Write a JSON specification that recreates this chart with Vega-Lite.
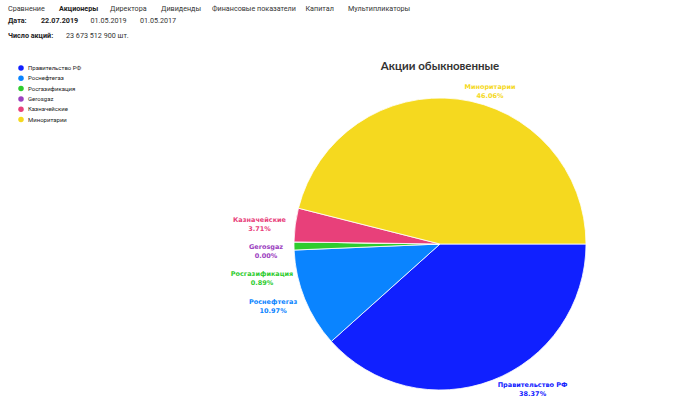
{
  "$schema": "https://vega.github.io/schema/vega-lite/v6.json",
  "width": 500,
  "height": 308,
  "autosize": {"type": "none"},
  "padding": {"left": 190, "top": 90, "right": 0, "bottom": 0},
  "background": "white",
  "config": {"view": {"stroke": null}},
  "title": {
    "text": "Акции обыкновенные",
    "anchor": "middle",
    "frame": "group",
    "font": "Lato",
    "fontSize": 11.5,
    "fontWeight": "bold",
    "color": "#333333",
    "offset": -67
  },
  "datasets": {
    "shares": [
      {"order": 1, "name": "Правительство РФ", "value": 38.37, "pct": "38.37%"},
      {"order": 2, "name": "Роснефтегаз", "value": 10.97, "pct": "10.97%"},
      {"order": 3, "name": "Росгазификация", "value": 0.89, "pct": "0.89%"},
      {"order": 4, "name": "Gerosgaz", "value": 0.0, "pct": "0.00%"},
      {"order": 5, "name": "Казначейские", "value": 3.71, "pct": "3.71%"},
      {"order": 6, "name": "Миноритарии", "value": 46.06, "pct": "46.06%"}
    ],
    "nav": [
      {"k": "n1", "line": "l1", "t": "Сравнение", "bold": 0},
      {"k": "n2", "line": "l1", "t": "Акционеры", "bold": 1},
      {"k": "n3", "line": "l1", "t": "Директора", "bold": 0},
      {"k": "n4", "line": "l1", "t": "Дивиденды", "bold": 0},
      {"k": "n5", "line": "l1", "t": "Финансовые показатели", "bold": 0},
      {"k": "n6", "line": "l1", "t": "Капитал", "bold": 0},
      {"k": "n7", "line": "l1", "t": "Мультипликаторы", "bold": 0}
    ],
    "dates": [
      {"k": "d1", "line": "l2", "t": "Дата:", "bold": 1},
      {"k": "d2", "line": "l2", "t": "22.07.2019", "bold": 1},
      {"k": "d3", "line": "l2", "t": "01.05.2019", "bold": 0},
      {"k": "d4", "line": "l2", "t": "01.05.2017", "bold": 0}
    ],
    "count": [
      {"k": "c1", "line": "l3", "t": "Число акций:", "bold": 1},
      {"k": "c2", "line": "l3", "t": "23 673 512 900 шт.", "bold": 0}
    ]
  },
  "layer": [
    {
      "data": {"name": "shares"},
      "mark": {"type": "arc", "outerRadius": 146, "stroke": "white", "strokeWidth": 0.8},
      "encoding": {
        "theta": {"field": "value", "type": "quantitative", "stack": true, "scale": {"range": [1.5708, 7.854]}},
        "order": {"field": "order", "type": "quantitative", "sort": "ascending"},
        "color": {
          "field": "name",
          "type": "nominal",
          "sort": {"field": "order"},
          "scale": {
            "domain": ["Правительство РФ", "Роснефтегаз", "Росгазификация", "Gerosgaz", "Казначейские", "Миноритарии"],
            "range": ["#1020ff", "#0a84ff", "#2ecc2e", "#9b40c0", "#e8407a", "#f5d91f"]
          },
          "legend": {
            "title": null,
            "orient": "none",
            "legendX": -172,
            "legendY": -25,
            "padding": 0,
            "symbolType": "circle",
            "symbolSize": 30,
            "symbolStrokeWidth": 0,
            "labelFontSize": 6,
            "labelFont": "Roboto",
            "labelColor": "#222222",
            "labelOffset": 4,
            "rowPadding": 4.3,
            "encode": {
              "labels": {
                "update": {
                  "fontWeight": {"signal": "datum.label === 'Правительство РФ' || datum.label === 'Миноритарии' ? 'bold' : 'normal'"}
                }
              }
            }
          }
        }
      }
    },
    {
      "data": {"name": "shares"},
      "transform": [{"calculate": "datum.name + '|' + datum.pct", "as": "label"}],
      "mark": {"type": "text", "radius": 178, "dx": 29, "dy": -25, "font": "DejaVu Sans", "fontSize": 6.5, "fontWeight": "bold", "lineBreak": "|", "lineHeight": 9, "align": "center", "baseline": "middle"},
      "encoding": {
        "theta": {"field": "value", "type": "quantitative", "stack": true},
        "order": {"field": "order", "type": "quantitative", "sort": "ascending"},
        "text": {"condition": {"test": "datum.name === 'Правительство РФ'", "field": "label"}, "value": ""},
        "color": {"field": "name", "type": "nominal", "legend": null}
      }
    },
    {
      "data": {"name": "shares"},
      "transform": [{"calculate": "datum.name + '|' + datum.pct", "as": "label"}],
      "mark": {"type": "text", "radius": 178, "dx": -2, "dy": -9, "font": "DejaVu Sans", "fontSize": 6.5, "fontWeight": "bold", "lineBreak": "|", "lineHeight": 9, "align": "center", "baseline": "middle"},
      "encoding": {
        "theta": {"field": "value", "type": "quantitative", "stack": true},
        "order": {"field": "order", "type": "quantitative", "sort": "ascending"},
        "text": {"condition": {"test": "datum.name === 'Роснефтегаз'", "field": "label"}, "value": ""},
        "color": {"field": "name", "type": "nominal", "legend": null}
      }
    },
    {
      "data": {"name": "shares"},
      "transform": [{"calculate": "datum.name + '|' + datum.pct", "as": "label"}],
      "mark": {"type": "text", "radius": 178, "dx": 0, "dy": 28, "font": "DejaVu Sans", "fontSize": 6.5, "fontWeight": "bold", "lineBreak": "|", "lineHeight": 9, "align": "center", "baseline": "middle"},
      "encoding": {
        "theta": {"field": "value", "type": "quantitative", "stack": true},
        "order": {"field": "order", "type": "quantitative", "sort": "ascending"},
        "text": {"condition": {"test": "datum.name === 'Росгазификация'", "field": "label"}, "value": ""},
        "color": {"field": "name", "type": "nominal", "legend": null}
      }
    },
    {
      "data": {"name": "shares"},
      "transform": [{"calculate": "datum.name + '|' + datum.pct", "as": "label"}],
      "mark": {"type": "text", "radius": 178, "dx": 4, "dy": 6, "font": "DejaVu Sans", "fontSize": 6.5, "fontWeight": "bold", "lineBreak": "|", "lineHeight": 9, "align": "center", "baseline": "middle"},
      "encoding": {
        "theta": {"field": "value", "type": "quantitative", "stack": true},
        "order": {"field": "order", "type": "quantitative", "sort": "ascending"},
        "text": {"condition": {"test": "datum.name === 'Gerosgaz'", "field": "label"}, "value": ""},
        "color": {"field": "name", "type": "nominal", "legend": null}
      }
    },
    {
      "data": {"name": "shares"},
      "transform": [{"calculate": "datum.name + '|' + datum.pct", "as": "label"}],
      "mark": {"type": "text", "radius": 178, "dx": -4, "dy": -1, "font": "DejaVu Sans", "fontSize": 6.5, "fontWeight": "bold", "lineBreak": "|", "lineHeight": 9, "align": "center", "baseline": "middle"},
      "encoding": {
        "theta": {"field": "value", "type": "quantitative", "stack": true},
        "order": {"field": "order", "type": "quantitative", "sort": "ascending"},
        "text": {"condition": {"test": "datum.name === 'Казначейские'", "field": "label"}, "value": ""},
        "color": {"field": "name", "type": "nominal", "legend": null}
      }
    },
    {
      "data": {"name": "shares"},
      "transform": [{"calculate": "datum.name + '|' + datum.pct", "as": "label"}],
      "mark": {"type": "text", "radius": 178, "dx": 28, "dy": 20, "font": "DejaVu Sans", "fontSize": 6.5, "fontWeight": "bold", "lineBreak": "|", "lineHeight": 9, "align": "center", "baseline": "middle"},
      "encoding": {
        "theta": {"field": "value", "type": "quantitative", "stack": true},
        "order": {"field": "order", "type": "quantitative", "sort": "ascending"},
        "text": {"condition": {"test": "datum.name === 'Миноритарии'", "field": "label"}, "value": ""},
        "color": {"field": "name", "type": "nominal", "legend": null}
      }
    },
    {
      "data": {"name": "nav"},
      "transform": [{"filter": "datum.bold === 0"}],
      "mark": {"type": "text", "font": "Roboto", "fontSize": 7.2, "align": "left", "baseline": "middle", "color": "#333333"},
      "encoding": {
        "x": {"field": "k", "type": "nominal", "axis": null, "scale": {
            "type": "point", "padding": 0,
            "domain": ["n1", "a1", "a2", "a3", "a4", "a5", "n2", "b1", "b2", "b3", "b4", "b5", "n3", "c1", "c2", "c3", "c4", "c5", "n4", "e1", "e2", "e3", "e4", "e5", "n5", "f1", "f2", "f3", "f4", "f5", "f6", "f7", "f8", "f9", "f10", "n6", "h1", "h2", "h3", "h4", "n7"],
            "range": [-182, 158]
          }},
        "y": {"field": "line", "type": "nominal", "axis": null, "scale": {
            "type": "point", "padding": 0,
            "domain": ["l1", "q1", "q2", "q3", "l2", "q4", "q5", "q6", "q7", "l3"],
            "range": [-81, -54]
          }},
        "text": {"field": "t", "type": "nominal"}
      }
    },
    {
      "data": {"name": "nav"},
      "transform": [{"filter": "datum.bold === 1"}],
      "mark": {"type": "text", "font": "Roboto", "fontSize": 7.2, "fontWeight": "bold", "align": "left", "baseline": "middle", "color": "#222222"},
      "encoding": {
        "x": {"field": "k", "type": "nominal", "axis": null, "scale": {
            "type": "point", "padding": 0,
            "domain": ["n1", "a1", "a2", "a3", "a4", "a5", "n2", "b1", "b2", "b3", "b4", "b5", "n3", "c1", "c2", "c3", "c4", "c5", "n4", "e1", "e2", "e3", "e4", "e5", "n5", "f1", "f2", "f3", "f4", "f5", "f6", "f7", "f8", "f9", "f10", "n6", "h1", "h2", "h3", "h4", "n7"],
            "range": [-182, 158]
          }},
        "y": {"field": "line", "type": "nominal", "axis": null},
        "text": {"field": "t", "type": "nominal"}
      }
    },
    {
      "data": {"name": "dates"},
      "transform": [{"filter": "datum.bold === 0"}],
      "mark": {"type": "text", "font": "Roboto", "fontSize": 7.2, "align": "left", "baseline": "middle", "color": "#333333"},
      "encoding": {
        "x": {"field": "k", "type": "nominal", "axis": null, "scale": {
            "type": "point", "padding": 0,
            "domain": ["d1", "g1", "d2", "g2", "g3", "d3", "g4", "g5", "d4"],
            "range": [-182, -50]
          }},
        "y": {"field": "line", "type": "nominal", "axis": null},
        "text": {"field": "t", "type": "nominal"}
      }
    },
    {
      "data": {"name": "dates"},
      "transform": [{"filter": "datum.bold === 1"}],
      "mark": {"type": "text", "font": "Roboto", "fontSize": 7.2, "fontWeight": "bold", "align": "left", "baseline": "middle", "color": "#222222"},
      "encoding": {
        "x": {"field": "k", "type": "nominal", "axis": null, "scale": {
            "type": "point", "padding": 0,
            "domain": ["d1", "g1", "d2", "g2", "g3", "d3", "g4", "g5", "d4"],
            "range": [-182, -50]
          }},
        "y": {"field": "line", "type": "nominal", "axis": null},
        "text": {"field": "t", "type": "nominal"}
      }
    },
    {
      "data": {"name": "count"},
      "transform": [{"filter": "datum.bold === 0"}],
      "mark": {"type": "text", "font": "Roboto", "fontSize": 7.2, "align": "left", "baseline": "middle", "color": "#333333"},
      "encoding": {
        "x": {"field": "k", "type": "nominal", "axis": null, "scale": {
            "type": "point", "padding": 0,
            "domain": ["c1", "c2"],
            "range": [-182, -124]
          }},
        "y": {"field": "line", "type": "nominal", "axis": null},
        "text": {"field": "t", "type": "nominal"}
      }
    },
    {
      "data": {"name": "count"},
      "transform": [{"filter": "datum.bold === 1"}],
      "mark": {"type": "text", "font": "Roboto", "fontSize": 7.2, "fontWeight": "bold", "align": "left", "baseline": "middle", "color": "#222222"},
      "encoding": {
        "x": {"field": "k", "type": "nominal", "axis": null, "scale": {
            "type": "point", "padding": 0,
            "domain": ["c1", "c2"],
            "range": [-182, -124]
          }},
        "y": {"field": "line", "type": "nominal", "axis": null},
        "text": {"field": "t", "type": "nominal"}
      }
    }
  ],
  "resolve": {"scale": {"x": "independent", "y": "shared", "theta": "shared", "color": "shared"}}
}
